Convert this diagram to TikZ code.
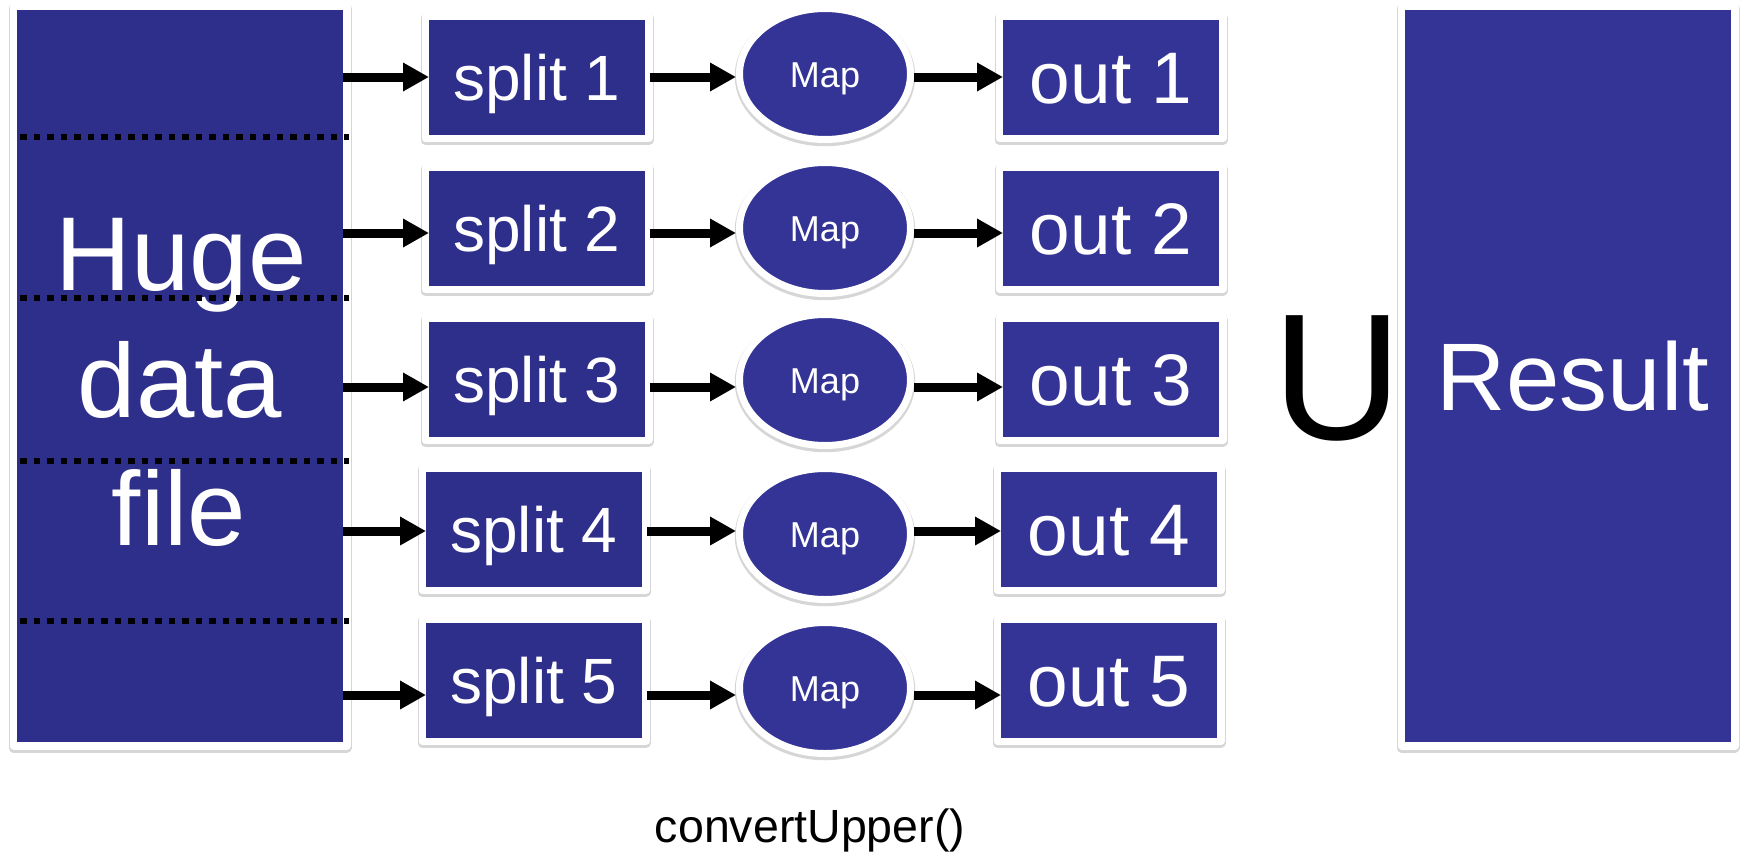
\documentclass[tikz,border=0pt]{standalone}
\usepackage{fontspec}
\setmainfont{Liberation Sans}
\usetikzlibrary{arrows.meta,shapes.geometric}

\definecolor{fileblue}{RGB}{46,47,138}
\definecolor{outblue}{RGB}{52,51,150}

\tikzset{
  softshadow/.style={preaction={draw=black,draw opacity=0.16,line width=9.5pt,
      transform canvas={yshift=-2pt}}},
  framed/.style={softshadow,draw=white,line width=7.5pt,line join=round,
      inner sep=0pt,text=white,text depth=0pt},
  tallbox/.style={framed,rectangle,outer sep=-3.75pt,
      minimum width=333.5pt,minimum height=739.5pt},
  splitbox/.style={framed,rectangle,outer sep=-3.75pt,fill=fileblue,
      minimum width=223.5pt,minimum height=122.5pt,
      font=\fontsize{64pt}{70pt}\selectfont,text height=46pt},
  outbox/.style={framed,rectangle,outer sep=-3.75pt,fill=outblue,
      minimum width=223.5pt,minimum height=122.5pt,
      font=\fontsize{73pt}{80pt}\selectfont,text height=53pt},
  mapnode/.style={framed,ellipse,line width=7pt,outer sep=3.5pt,fill=outblue,
      minimum width=171pt,minimum height=131pt,
      font=\fontsize{36pt}{40pt}\selectfont,text height=26pt},
  bigword/.style={text=white,inner sep=0pt,anchor=base,
      font=\fontsize{105pt}{127pt}\selectfont},
  flow/.style={draw=black,line width=9pt,
      -{Triangle[length=26pt,width=27pt]}},
  partline/.style={draw=black,line width=5.5pt,dash pattern=on 6.5pt off 7pt},
}

\begin{document}
\begin{tikzpicture}[x=1pt,y=-1pt]
  \useasboundingbox (0,0) rectangle (1744,854);

  % the input file and the final result
  \node[tallbox,fill=fileblue] (huge) at (180,376) {};
  \node[tallbox,fill=outblue,font=\fontsize{96pt}{110pt}\selectfont,
        text height=69pt] (result) at (1568,376) {\hspace{10pt}Result};

  \node[bigword] (w1) at (181,290) {Huge};
  \node[bigword] (w2) at (180,417) {data};
  \node[bigword] (w3) at (179,545) {file};

  % boundaries between the splits of the file
  \foreach \yy in {137,298,461,621}
    \draw[partline] (20,\yy) -- (349,\yy);

  % one row per split: split -> Map -> out
  \node[splitbox] (s1) at (537,77)  {split 1};
  \node[splitbox] (s2) at (537,228) {split 2};
  \node[splitbox] (s3) at (537,379) {split 3};
  \node[splitbox] (s4) at (534,529) {split 4};
  \node[splitbox] (s5) at (534,680) {split 5};

  \node[mapnode] (m1) at (825,74)  {Map};
  \node[mapnode] (m2) at (825,228) {Map};
  \node[mapnode] (m3) at (825,380) {Map};
  \node[mapnode] (m4) at (825,534) {Map};
  \node[mapnode] (m5) at (825,688) {Map};

  \node[outbox] (o1) at (1111,77)  {out 1};
  \node[outbox] (o2) at (1111,228) {out 2};
  \node[outbox] (o3) at (1111,379) {out 3};
  \node[outbox] (o4) at (1109,529) {out 4};
  \node[outbox] (o5) at (1109,680) {out 5};

  % arrow levels of the rows
  \coordinate (r1) at (0,77);
  \coordinate (r2) at (0,233);
  \coordinate (r3) at (0,387);
  \coordinate (r4) at (0,531);
  \coordinate (r5) at (0,695);

  \foreach \i in {1,...,5} {
    \draw[flow] (huge.east |- r\i) -- (s\i.west |- r\i);
    \draw[flow] ([xshift=5pt]s\i.east |- r\i) -- (m\i.west |- r\i);
    \draw[flow] (m\i.east |- r\i) -- (o\i.west |- r\i);
  }

  % union sign and caption
  \node[inner sep=0pt,anchor=base,font=\fontsize{180pt}{190pt}\selectfont]
    (union) at (1337,439) {U};
  \node[inner sep=0pt,anchor=base,font=\fontsize{46.5pt}{50pt}\selectfont]
    (caption) at (810,842) {convertUpper()};
\end{tikzpicture}
\end{document}
